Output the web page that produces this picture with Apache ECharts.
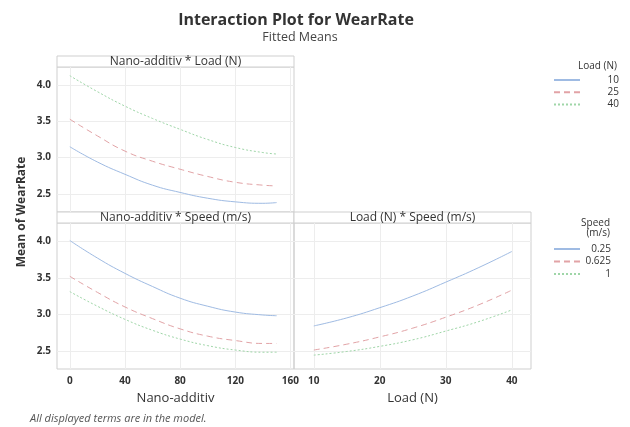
<!DOCTYPE html>
<html>
<head>
<meta charset="utf-8">
<script src="https://cdn.jsdelivr.net/npm/echarts@6/dist/echarts.min.js"></script>
<style>
html, body { margin: 0; padding: 0; background: #fff; }
#main { width: 630px; height: 427px; }
</style>
</head>
<body>
<div id="main"></div>
<script>
// x levels
var nanoX = [0, 20, 40, 60, 80, 100, 120, 140, 150];
var loadX = [10, 15, 20, 25, 30, 35, 40];

// Nano-additiv * Load (N)
var loadNames = ['10', '25', '40'];
var nanoLoad10 = [3.15, 2.94, 2.77, 2.62, 2.52, 2.44, 2.39, 2.37, 2.38];
var nanoLoad25 = [3.53, 3.30, 3.09, 2.95, 2.84, 2.74, 2.66, 2.62, 2.61];
var nanoLoad40 = [4.13, 3.91, 3.71, 3.54, 3.39, 3.25, 3.14, 3.07, 3.05];

// Nano-additiv * Speed (m/s)
var speedNames = ['0.25', '0.625', '1'];
var nanoSpeed025 = [4.01, 3.77, 3.56, 3.38, 3.22, 3.11, 3.03, 2.99, 2.98];
var nanoSpeed0625 = [3.52, 3.30, 3.10, 2.94, 2.80, 2.70, 2.64, 2.60, 2.60];
var nanoSpeed1 = [3.31, 3.11, 2.93, 2.78, 2.66, 2.57, 2.51, 2.48, 2.48];

// Load (N) * Speed (m/s)
var loadSpeed025 = [2.84, 2.95, 3.09, 3.25, 3.44, 3.64, 3.86];
var loadSpeed0625 = [2.51, 2.59, 2.69, 2.81, 2.96, 3.13, 3.33];
var loadSpeed1 = [2.44, 2.49, 2.56, 2.65, 2.77, 2.90, 3.06];

var yTicks = [2.5, 3.0, 3.5, 4.0];
var nanoTicks = [0, 40, 80, 120, 160];
var loadTicks = [10, 20, 30, 40];

var font = "'Open Sans', 'Noto Sans', sans-serif";
var colors = ['#9fbbe3', '#e2a3a6', '#9fd6a8'];
var dashes = ['solid', [6, 4], [2, 2]];
var frame = '#cfcfcf';
var gridLine = '#ededed';

function pairs(xs, ys) {
	return xs.map(function(x, i) { return [x, ys[i]]; });
}

function lineSeries(name, xs, ys, k, axis) {
	return {
		name: name,
		type: 'line',
		xAxisIndex: axis,
		yAxisIndex: axis,
		data: pairs(xs, ys),
		smooth: true,
		symbol: 'none',
		color: colors[k],
		lineStyle: { width: 1, type: dashes[k], color: colors[k] }
	};
}

function xAxisOf(idx, min, max, ticks, showLabels, name) {
	return {
		type: 'value',
		gridIndex: idx,
		min: min,
		max: max,
		name: name || '',
		nameLocation: 'middle',
		nameGap: 23,
		nameTextStyle: { fontFamily: font, fontSize: 13, color: '#333' },
		axisLine: { show: false },
		axisTick: { show: false, customValues: ticks },
		axisLabel: { show: showLabels, customValues: ticks, margin: 7, fontFamily: font, fontSize: 10, fontWeight: 'bold', color: '#333' },
		splitLine: { show: true, lineStyle: { color: gridLine, width: 1 } }
	};
}

function yAxisOf(idx, showLabels) {
	return {
		type: 'value',
		gridIndex: idx,
		min: 2.25,
		max: 4.25,
		axisLine: { show: false },
		axisTick: { show: false, customValues: yTicks },
		axisLabel: { show: showLabels, customValues: yTicks, margin: 6, fontFamily: font, fontSize: 10, fontWeight: 'bold', color: '#333',
			formatter: function(v) { return v.toFixed(1); } },
		splitLine: { show: true, lineStyle: { color: gridLine, width: 1 } }
	};
}

function strip(x, y, w, text) {
	return [
		{ type: 'rect', shape: { x: x, y: y, width: w, height: 11 }, style: { fill: '#fff', stroke: frame, lineWidth: 1 } },
		{ type: 'text', x: x + w / 2, y: y + 5.5, style: { text: text, fontFamily: font, fontSize: 12, fill: '#333', align: 'center', verticalAlign: 'middle' } }
	];
}

function legendOf(names, top, labelWidth, gap) {
	return {
		data: names,
		orient: 'vertical',
		left: 548,
		top: top,
		itemWidth: 26,
		itemHeight: 10,
		itemGap: gap,
		itemStyle: { opacity: 0 },
		formatter: '{a|{name}}',
		textStyle: { fontFamily: font, fontSize: 10, color: '#333',
			rich: { a: { width: labelWidth, align: 'right', fontFamily: font, fontSize: 10, color: '#333' } } }
	};
}

var myChart = echarts.init(document.getElementById('main'));

var option = {
	animation: false,
	backgroundColor: '#fff',
	grid: [
		{ left: 57, top: 67, width: 237, height: 145, show: true, borderColor: frame, borderWidth: 1, backgroundColor: 'transparent' },
		{ left: 57, top: 223, width: 237, height: 146, show: true, borderColor: frame, borderWidth: 1, backgroundColor: 'transparent' },
		{ left: 294, top: 223, width: 237, height: 146, show: true, borderColor: frame, borderWidth: 1, backgroundColor: 'transparent' }
	],
	xAxis: [
		xAxisOf(0, -9.3, 162.6, nanoTicks, false),
		xAxisOf(1, -9.3, 162.6, nanoTicks, true, 'Nano-additiv'),
		xAxisOf(2, 7.0, 42.9, loadTicks, true, 'Load (N)')
	],
	yAxis: [yAxisOf(0, true), yAxisOf(1, true), yAxisOf(2, false)],
	legend: [
		legendOf(loadNames, 70, 34, 2.3),
		legendOf(speedNames, 239, 26, 2.5)
	],
	graphic: [].concat(
		[
			{ type: 'text', x: 296, y: 20, style: { text: 'Interaction Plot for WearRate', fontFamily: font, fontSize: 16, fontWeight: 'bold', fill: '#333', align: 'center', verticalAlign: 'middle' } },
			{ type: 'text', x: 300, y: 37, style: { text: 'Fitted Means', fontFamily: font, fontSize: 12.5, fill: '#444', align: 'center', verticalAlign: 'middle' } },
			{ type: 'text', x: 22, y: 212, rotation: Math.PI / 2, style: { text: 'Mean of WearRate', fontFamily: font, fontSize: 12, fontWeight: 'bold', fill: '#333', align: 'center', verticalAlign: 'middle' } },
			{ type: 'text', x: 30, y: 419, style: { text: 'All displayed terms are in the model.', fontFamily: font, fontSize: 11, fontStyle: 'italic', fill: '#555', align: 'left', verticalAlign: 'middle' } },
			{ type: 'text', x: 617, y: 66, style: { text: 'Load (N)', fontFamily: font, fontSize: 10, fill: '#333', align: 'right', verticalAlign: 'middle' } },
			{ type: 'text', x: 610, y: 223, style: { text: 'Speed', fontFamily: font, fontSize: 10, fill: '#333', align: 'right', verticalAlign: 'middle' } },
			{ type: 'text', x: 610, y: 233, style: { text: '(m/s)', fontFamily: font, fontSize: 10, fill: '#333', align: 'right', verticalAlign: 'middle' } }
		],
		strip(57, 56, 237, 'Nano-additiv * Load (N)'),
		strip(57, 212, 237, 'Nano-additiv * Speed (m/s)'),
		strip(294, 212, 237, 'Load (N) * Speed (m/s)')
	),
	series: [
		lineSeries('10', nanoX, nanoLoad10, 0, 0),
		lineSeries('25', nanoX, nanoLoad25, 1, 0),
		lineSeries('40', nanoX, nanoLoad40, 2, 0),
		lineSeries('0.25', nanoX, nanoSpeed025, 0, 1),
		lineSeries('0.625', nanoX, nanoSpeed0625, 1, 1),
		lineSeries('1', nanoX, nanoSpeed1, 2, 1),
		lineSeries('0.25', loadX, loadSpeed025, 0, 2),
		lineSeries('0.625', loadX, loadSpeed0625, 1, 2),
		lineSeries('1', loadX, loadSpeed1, 2, 2)
	]
};

myChart.setOption(option);
</script>
</body>
</html>
